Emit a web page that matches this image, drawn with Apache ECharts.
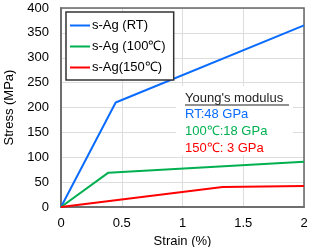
<!DOCTYPE html>
<html><head><meta charset="utf-8">
<script src="https://cdn.jsdelivr.net/npm/echarts@6/dist/echarts.min.js"></script>
<style>html,body{margin:0;padding:0;background:#fff}#c{width:310px;height:247px}</style>
</head><body><div id="c"></div>
<script>
const seriesNames = ['s-Ag (RT)', 's-Ag (100\u2103)', 's-Ag(150\u2103)'];
const rtData = [[0,0],[0.45,210],[2,365]];
const c100Data = [[0,0],[0.39,69],[2,91]];
const c150Data = [[0,0],[1.33,40],[2,42]];
const xTicks = [0,0.5,1,1.5,2];
const yTicks = [0,50,100,150,200,250,300,350,400];
const notes = ["Young's modulus", 'RT:48 GPa', '100\u2103:18 GPa', '150\u2103: 3 GPa'];
const colors = ['#0a6cff', '#00b050', '#ff0000'];
const font = 'Liberation Sans, Arial, sans-serif';

const chart = echarts.init(document.getElementById('c'));
chart.setOption({
  animation: false,
  grid: {left: 61, right: 6, top: 8, bottom: 40, outerBoundsMode: 'none', containLabel: false},
  xAxis: {
    type: 'value', min: 0, max: 2, interval: 0.5,
    name: 'Strain (%)', nameLocation: 'middle', nameGap: 26,
    nameTextStyle: {fontFamily: font, fontSize: 13, color: '#000'},
    axisLine: {lineStyle: {color: '#888', width: 2}},
    axisTick: {show: false},
    axisLabel: {fontFamily: font, fontSize: 13, color: '#000', margin: 10,
      formatter: v => xTicks.includes(v) ? String(v) : ''},
    splitLine: {lineStyle: {color: '#ddd'}}
  },
  yAxis: {
    type: 'value', min: 0, max: 400, interval: 50,
    name: 'Stress (MPa)', nameLocation: 'middle', nameGap: 43,
    nameTextStyle: {fontFamily: font, fontSize: 13, color: '#000'},
    axisLine: {show: true, lineStyle: {color: '#888', width: 2}},
    axisTick: {show: false},
    axisLabel: {fontFamily: font, fontSize: 13, color: '#000', margin: 12,
      formatter: v => yTicks.includes(v) ? String(v) : ''},
    splitLine: {lineStyle: {color: '#ddd'}}
  },
  legend: {
    orient: 'vertical', left: 66, top: 12, backgroundColor: '#fff',
    borderColor: '#333', borderWidth: 1.5, padding: [7, 8, 6, 4],
    icon: 'rect', itemWidth: 20, itemHeight: 2, itemGap: 8,
    textStyle: {fontFamily: font, fontSize: 13, color: '#000', padding: [0,0,0,-3]},
    data: seriesNames
  },
  series: [
    {name: seriesNames[0], type: 'line', data: rtData, symbol: 'none', lineStyle: {color: colors[0], width: 2}, itemStyle: {color: colors[0]}},
    {name: seriesNames[1], type: 'line', data: c100Data, symbol: 'none', lineStyle: {color: colors[1], width: 2}, itemStyle: {color: colors[1]}},
    {name: seriesNames[2], type: 'line', data: c150Data, symbol: 'none', lineStyle: {color: colors[2], width: 2}, itemStyle: {color: colors[2]}}
  ],
  graphic: [
    {type: 'rect', z: 1, shape: {x: 61, y: 8, width: 243, height: 199}, style: {fill: 'none', stroke: '#666', lineWidth: 1.5}, silent: true},
    {type: 'rect', z: 1, shape: {x: 176, y: 86, width: 117, height: 69}, style: {fill: '#fff'}, silent: true},
    {type: 'text', z: 3, left: 185, top: 92, style: {text: notes[0], font: '13px ' + font, fill: '#222'}},
    {type: 'line', z: 3, shape: {x1: 185, y1: 105, x2: 289, y2: 105}, style: {stroke: '#222', lineWidth: 1}},
    {type: 'text', z: 3, left: 185, top: 108, style: {text: notes[1], font: '13px ' + font, fill: colors[0]}},
    {type: 'text', z: 3, left: 185, top: 125, style: {text: notes[2], font: '13px ' + font, fill: colors[1]}},
    {type: 'text', z: 3, left: 185, top: 142, style: {text: notes[3], font: '13px ' + font, fill: colors[2]}}
  ]
});
</script></body></html>
